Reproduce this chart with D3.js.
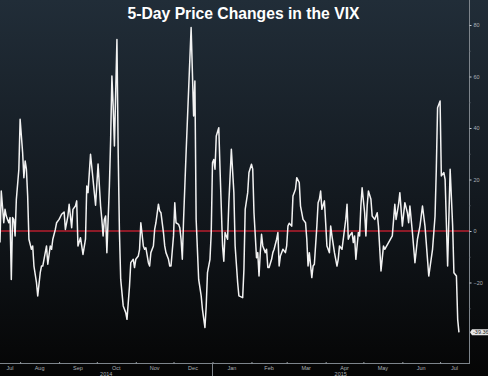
<!DOCTYPE html>
<html>
<head>
<meta charset="utf-8">
<script src="https://cdn.jsdelivr.net/npm/d3@7"></script>
<style>
  body { margin: 0; background: #000; }
  svg { display: block; font-family: "Liberation Sans", Arial, sans-serif; }
</style>
</head>
<body>
<div id="chart"></div>
<script>
// chart data
var title = "5-Day Price Changes in the VIX";
var startDate = "2014-07-16", endDate = "2015-07-24";
var yTicks = [-20, 0, 20, 40, 60, 80];
var yMinorTicks = [-30, -10, 10, 30, 50, 70];
var lastLabel = "-39.36";

var dates = [
  "2014-07-16","2014-07-17","2014-07-19","2014-07-20","2014-07-21","2014-07-22","2014-07-23","2014-07-24","2014-07-25","2014-07-26",
  "2014-07-27","2014-07-28","2014-07-29","2014-07-31","2014-08-01","2014-08-03","2014-08-04","2014-08-05","2014-08-06","2014-08-07",
  "2014-08-08","2014-08-10","2014-08-11","2014-08-12","2014-08-14","2014-08-15","2014-08-17","2014-08-18","2014-08-19","2014-08-21",
  "2014-08-22","2014-08-23","2014-08-25","2014-08-26","2014-08-27","2014-08-29","2014-08-30","2014-09-01","2014-09-03","2014-09-05",
  "2014-09-06","2014-09-08","2014-09-09","2014-09-10","2014-09-11","2014-09-12","2014-09-14","2014-09-15","2014-09-16","2014-09-18",
  "2014-09-19","2014-09-20","2014-09-22","2014-09-23","2014-09-24","2014-09-26","2014-09-30","2014-10-02","2014-10-04","2014-10-05",
  "2014-10-06","2014-10-07","2014-10-08","2014-10-09","2014-10-11","2014-10-12","2014-10-13","2014-10-14","2014-10-15","2014-10-17",
  "2014-10-18","2014-10-19","2014-10-20","2014-10-22","2014-10-24","2014-10-25","2014-10-27","2014-10-28","2014-10-30","2014-10-31",
  "2014-11-01","2014-11-03","2014-11-04","2014-11-05","2014-11-07","2014-11-08","2014-11-09","2014-11-11","2014-11-12","2014-11-13",
  "2014-11-15","2014-11-16","2014-11-17","2014-11-19","2014-11-20","2014-11-21","2014-11-23","2014-11-24","2014-11-25","2014-11-27",
  "2014-11-28","2014-11-29","2014-12-01","2014-12-02","2014-12-03","2014-12-05","2014-12-06","2014-12-07","2014-12-08","2014-12-09",
  "2014-12-11","2014-12-15","2014-12-17","2014-12-18","2014-12-19","2014-12-21","2014-12-23","2014-12-24","2014-12-26","2014-12-27",
  "2014-12-28","2014-12-30","2014-12-31","2015-01-01","2015-01-02","2015-01-03","2015-01-04","2015-01-06","2015-01-07","2015-01-09",
  "2015-01-10","2015-01-11","2015-01-12","2015-01-13","2015-01-14","2015-01-16","2015-01-18","2015-01-19","2015-01-21","2015-01-22",
  "2015-01-25","2015-01-26","2015-01-27","2015-01-29","2015-01-30","2015-02-01","2015-02-02","2015-02-03","2015-02-05","2015-02-06",
  "2015-02-07","2015-02-08","2015-02-09","2015-02-10","2015-02-12","2015-02-13","2015-02-14","2015-02-15","2015-02-17","2015-02-18",
  "2015-02-19","2015-02-21","2015-02-22","2015-02-23","2015-02-24","2015-02-26","2015-02-28","2015-03-01","2015-03-02","2015-03-03",
  "2015-03-05","2015-03-06","2015-03-08","2015-03-09","2015-03-11","2015-03-12","2015-03-14","2015-03-16","2015-03-17","2015-03-18",
  "2015-03-19","2015-03-21","2015-03-22","2015-03-23","2015-03-25","2015-03-26","2015-03-27","2015-03-28","2015-03-29","2015-03-31",
  "2015-04-01","2015-04-02","2015-04-04","2015-04-05","2015-04-06","2015-04-08","2015-04-10","2015-04-11","2015-04-12","2015-04-14",
  "2015-04-15","2015-04-17","2015-04-18","2015-04-19","2015-04-20","2015-04-22","2015-04-23","2015-04-24","2015-04-25","2015-04-27",
  "2015-04-28","2015-04-29","2015-04-30","2015-05-02","2015-05-03","2015-05-04","2015-05-05","2015-05-07","2015-05-08","2015-05-10",
  "2015-05-12","2015-05-13","2015-05-15","2015-05-17","2015-05-18","2015-05-21","2015-05-24","2015-05-26","2015-05-27","2015-05-29",
  "2015-05-30","2015-06-01","2015-06-03","2015-06-05","2015-06-06","2015-06-07","2015-06-09","2015-06-11","2015-06-13","2015-06-15",
  "2015-06-17","2015-06-19","2015-06-21","2015-06-22","2015-06-25","2015-06-27","2015-06-28","2015-06-29","2015-07-01","2015-07-02",
  "2015-07-04","2015-07-05","2015-07-07","2015-07-09","2015-07-11","2015-07-12","2015-07-14","2015-07-15","2015-07-16"
];

var changes = [
  -4.5, 15.5, 3.2, 8.4, 5.8, 4.5, 3.2, 5.2, -18.8, 5.2,
  4.5, -1.9, 12.3, 24, 43.4, 30.4, 20.7, 27.2, 24, 13.6,
  -3.2, -7.1, -5.8, -13.6, -20, -25.2, -16.2, -13.6, -13.6, -8.4,
  -5.8, -12.9, -5.8, -7.1, -3.2, 0.6, 3.2, 4.5, 6.5, 7.4,
  0.6, 5.8, 10.4, 5.8, 1.3, 8.4, 9.7, 11.7, -5.8, -2.6,
  -5.8, -9.1, -3.2, 17.5, 14.9, 29.8, 10, 26, 9.7, 4.5,
  -1.9, 4.5, 5.8, -8.4, 17.5, 35.6, 60.2, 48.5, 33, 74.4,
  30.4, -0.6, -18.8, -29.1, -31.7, -34.3, -21.4, -12.3, -11, -14.2,
  -11, -9.7, -7.1, 3.2, -5.8, -7.1, -6.5, -12.3, -13.6, -8.4,
  -5.8, 0.6, 3.2, 10.4, 7.8, 7.1, -0.6, -5.8, -8.4, -11,
  -13.6, -13.6, -1.9, 11, 3.2, 2.6, 1.3, -3.2, -11, 4.5,
  30.4, 79, 44.7, 58.3, 4.5, -18.8, -25.2, -30.4, -37.5, -29.1,
  -16.2, -11, -0.6, 26.5, 27.8, 24, 36.9, 40.1, 24, -5.8,
  -11.7, -0.6, -1.9, -3.2, 11, 31.7, 14.9, -5.8, -20, -25.2,
  -25.9, -14.9, 8.4, 14.9, 22.7, 25.9, 24, 7.1, -10.4, -8.4,
  -17.5, -8.4, -1.3, -5.8, -8.4, -7.1, -14.2, -14.2, -11, -8.4,
  -7.1, -3.2, -0.6, -13.6, -9.7, -7.1, -8.4, -5.8, 1.9, 3,
  1.9, 13.6, 16.2, 20.7, 18.8, 9.7, 4.5, 3.2, -3.2, -13.6,
  -8.4, -18.1, -13.6, -12.9, 1.9, 11, 12.3, 15.5, 8.4, 11.7,
  3.2, -5.8, -8.4, 1.9, -1.9, -8.4, -13.6, -11, -5.8, -7.1,
  -3.2, 4.5, 10.4, -3.2, -1.9, -0.6, -4.5, -1.9, -11, -0.6,
  -1.9, 9.7, 16.8, 7.1, -1.9, 9.7, 15.5, 12.3, 5.8, 4.5,
  7.1, 1.9, -15.5, -5.8, -7.1, -4.5, -1.9, 10.4, 4.5, 10.4,
  14.9, 1.9, 11, 7.1, 3.2, 9.7, -0.6, -12.3, -3.2, 1.9,
  9.7, 1.9, -11, -17.5, -7.1, 5.8, 24, 47.9, 50.5, 21.4,
  22.7, 20, -13.6, 24, 1.9, -16.2, -17.5, -34.3, -39.36
];

var width = 488, height = 376;
var plotRight = 469, axisY = 363;

var svg = d3.select("#chart")
  .append("svg")
    .attr("width", width)
    .attr("height", height);

var parseDate = d3.timeParse("%Y-%m-%d");
var data = dates.map(function(d, i) { return {date: parseDate(d), value: changes[i]}; });

var x = d3.scaleTime()
  .domain([parseDate(startDate), parseDate(endDate)])
  .range([0, plotRight]);

var y = d3.scaleLinear()
  .domain([-20, 80])
  .range([282.5, 25]);

// background gradient
var defs = svg.append("defs");
var grad = defs.append("linearGradient")
  .attr("id", "bg")
  .attr("x1", 0).attr("y1", 0).attr("x2", 0).attr("y2", 1);
grad.selectAll("stop")
  .data([
    {offset: "0%", color: "#212d38"},
    {offset: "45%", color: "#151c23"},
    {offset: "100%", color: "#050505"}
  ])
  .enter().append("stop")
    .attr("offset", function(d) { return d.offset; })
    .attr("stop-color", function(d) { return d.color; });

defs.append("clipPath").attr("id", "plot")
  .append("rect").attr("x", 0).attr("y", 0).attr("width", plotRight).attr("height", axisY);

svg.append("rect")
  .attr("width", width)
  .attr("height", height)
  .attr("fill", "url(#bg)");

// zero line
svg.append("line")
  .attr("x1", 0).attr("x2", plotRight)
  .attr("y1", y(0)).attr("y2", y(0))
  .attr("stroke", "#8c1b28")
  .attr("stroke-width", 2);

// the series
svg.append("path")
  .datum(data)
  .attr("clip-path", "url(#plot)")
  .attr("fill", "none")
  .attr("stroke", "#f2f2f2")
  .attr("stroke-width", 1.5)
  .attr("stroke-linejoin", "round")
  .attr("d", d3.line()
    .x(function(d) { return x(d.date); })
    .y(function(d) { return y(d.value); }));

// right axis
svg.append("line")
  .attr("x1", plotRight + 0.5).attr("x2", plotRight + 0.5)
  .attr("y1", 0).attr("y2", axisY)
  .attr("stroke", "#7d848b")
  .attr("stroke-width", 1);

var yAxis = svg.append("g")
  .attr("transform", "translate(" + (plotRight + 0.5) + ",0)")
  .call(d3.axisRight(y).tickValues(yTicks).tickSize(2).tickPadding(2).tickFormat(d3.format("d")));
yAxis.select(".domain").remove();
yAxis.selectAll("line").attr("stroke", "#c8cdd2");
yAxis.selectAll("text")
  .attr("fill", "#aab0b6")
  .style("font-size", "5.5px");

svg.append("g")
  .attr("transform", "translate(" + (plotRight + 0.5) + ",0)")
  .call(d3.axisRight(y).tickValues(yMinorTicks).tickSize(1).tickFormat(""))
  .call(function(g) { g.select(".domain").remove(); })
  .selectAll("line").attr("stroke", "#5d646b");

// last value tag
var tag = svg.append("g")
  .attr("transform", "translate(" + (plotRight + 1) + "," + y(changes[changes.length - 1]) + ")");
tag.append("path")
  .attr("d", "M0,0 L2,-3 L19,-3 L19,3 L2,3 Z")
  .attr("fill", "#e8e8e8");
tag.append("text")
  .attr("x", 3)
  .attr("y", 2)
  .attr("fill", "#222")
  .style("font-size", "5.5px")
  .text(lastLabel);

// bottom axis
var months = d3.timeMonth.range(x.domain()[0], x.domain()[1]);
svg.append("line")
  .attr("x1", 0).attr("x2", plotRight + 1)
  .attr("y1", axisY + 0.5).attr("y2", axisY + 0.5)
  .attr("stroke", "#7d848b");

var xAxis = svg.append("g")
  .attr("transform", "translate(0," + (axisY + 0.5) + ")")
  .call(d3.axisBottom(x).tickValues(months).tickSize(-1.5).tickFormat(""));
xAxis.select(".domain").remove();
xAxis.selectAll("line").attr("stroke", "#9aa0a6");

// month labels centred on the visible part of each month
var monthSpans = d3.timeMonth.range(d3.timeMonth.floor(x.domain()[0]), x.domain()[1]).map(function(m) {
  var a = m < x.domain()[0] ? x.domain()[0] : m;
  var b = d3.timeMonth.offset(m, 1);
  if (b > x.domain()[1]) b = x.domain()[1];
  return {label: d3.timeFormat("%b")(m), x: (x(a) + x(b)) / 2};
});
svg.append("g").selectAll("text")
  .data(monthSpans)
  .enter().append("text")
    .attr("x", function(d) { return d.x; })
    .attr("y", axisY + 6.5)
    .attr("text-anchor", "middle")
    .attr("fill", "#aab0b6")
    .style("font-size", "5.5px")
    .text(function(d) { return d.label; });

// year labels and separator
var yearSpans = d3.timeYear.range(d3.timeYear.floor(x.domain()[0]), x.domain()[1]).map(function(yr) {
  var a = yr < x.domain()[0] ? x.domain()[0] : yr;
  var b = d3.timeYear.offset(yr, 1);
  if (b > x.domain()[1]) b = x.domain()[1];
  return {label: d3.timeFormat("%Y")(yr), x: (x(a) + x(b)) / 2, start: yr};
});
svg.append("g").selectAll("text")
  .data(yearSpans)
  .enter().append("text")
    .attr("x", function(d) { return d.x; })
    .attr("y", axisY + 12.5)
    .attr("text-anchor", "middle")
    .attr("fill", "#aab0b6")
    .style("font-size", "5.5px")
    .text(function(d) { return d.label; });

svg.append("g").selectAll("line")
  .data(yearSpans.filter(function(d) { return d.start > x.domain()[0]; }))
  .enter().append("line")
    .attr("x1", function(d) { return Math.round(x(d.start)) + 0.5; })
    .attr("x2", function(d) { return Math.round(x(d.start)) + 0.5; })
    .attr("y1", axisY)
    .attr("y2", height)
    .attr("stroke", "#7d848b");

// title
svg.append("text")
  .attr("x", 243.5)
  .attr("y", 19)
  .attr("text-anchor", "middle")
  .attr("fill", "#ffffff")
  .style("font-size", "15.7px")
  .style("font-weight", "bold")
  .text(title);
</script>
</body>
</html>
